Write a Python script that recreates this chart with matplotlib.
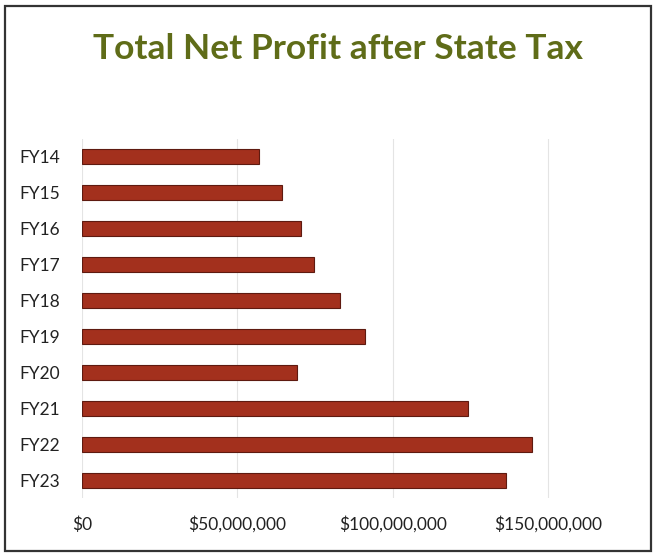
import matplotlib
matplotlib.use("Agg")
import matplotlib.pyplot as plt
from matplotlib.patches import Rectangle
from matplotlib.ticker import FuncFormatter

# Net profit after state tax by fiscal year (USD)
years = ["FY14", "FY15", "FY16", "FY17", "FY18", "FY19", "FY20", "FY21", "FY22", "FY23"]
profit = [56.8e6, 64.5e6, 70.4e6, 74.8e6, 83.1e6, 91.2e6, 69.1e6, 124.1e6, 144.7e6, 136.4e6]
x_ticks = [0, 50e6, 100e6, 150e6]

plt.rcParams["font.family"] = ["Lato", "DejaVu Sans"]

fig = plt.figure(figsize=(6.56, 5.58), dpi=100)
fig.patch.set_facecolor("white")

# outer frame
fig.add_artist(Rectangle((0.008, 0.012), 0.984, 0.978, transform=fig.transFigure,
                         fill=False, edgecolor="#333333", linewidth=1.6))

ax = fig.add_axes([0.125, 0.1075, 0.758, 0.6435])
ax.barh(range(len(years)), profit, height=0.42, color="#a3301d",
        edgecolor="#5e1a10", linewidth=0.8, zorder=3)

ax.set_xlim(0, 160e6)
ax.set_ylim(len(years) - 0.5, -0.5)
ax.set_yticks(range(len(years)))
ax.set_yticklabels(years)
ax.set_xticks(x_ticks)
ax.xaxis.set_major_formatter(FuncFormatter(lambda v, _: f"${v:,.0f}"))

ax.grid(axis="x", color="#e4e4e4", linewidth=0.8, zorder=0)
ax.grid(axis="y", visible=False)
for s in ax.spines.values():
    s.set_visible(False)
ax.tick_params(axis="both", length=0, labelsize=12.5, colors="#222222")
ax.tick_params(axis="y", pad=16)
ax.tick_params(axis="x", pad=13)

fig.text(0.515, 0.912, "Total Net Profit after State Tax", ha="center", va="center",
         fontsize=25.5, fontweight="bold", color="#5f6c18")

fig.savefig("out.png", dpi=100)
